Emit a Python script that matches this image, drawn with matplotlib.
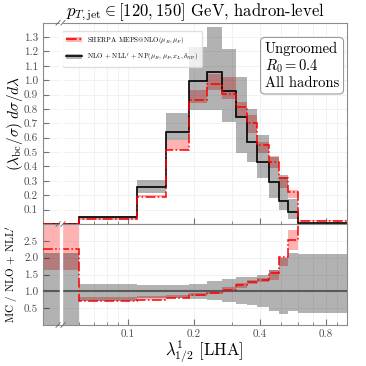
import numpy as np
import matplotlib
matplotlib.use('Agg')
import matplotlib.pyplot as plt
from matplotlib.ticker import FixedLocator, FixedFormatter, NullFormatter
from matplotlib.patches import Patch
from matplotlib.lines import Line2D

plt.rcParams['font.family'] = 'serif'
plt.rcParams['font.serif'] = ['cmr10']
plt.rcParams['mathtext.fontset'] = 'cm'
plt.rcParams['axes.formatter.use_mathtext'] = True

# bin edges in lambda (first bin is the squeezed underflow region)
edges = [0.041, 0.06, 0.11, 0.15, 0.19, 0.23, 0.27, 0.31, 0.35, 0.39, 0.44, 0.49, 0.54, 0.60, 1.0]
x_break = 0.0493

# NLO + NLL' + NP prediction with band
nll = [0.0013, 0.046, 0.255, 0.637, 0.993, 1.055, 0.925, 0.745, 0.567, 0.430, 0.294, 0.160, 0.085, 0.004]
nll_lo = [0.0, 0.036, 0.213, 0.583, 0.790, 0.792, 0.710, 0.491, 0.430, 0.317, 0.178, 0.097, 0.032, 0.0]
nll_hi = [0.003, 0.058, 0.305, 0.769, 1.231, 1.368, 1.220, 1.019, 0.797, 0.618, 0.467, 0.340, 0.174, 0.009]

# SHERPA MEPS@NLO with scale band
mc = [0.003, 0.033, 0.190, 0.514, 0.861, 0.975, 0.905, 0.812, 0.700, 0.549, 0.430, 0.320, 0.220, 0.022]
mc_lo = [0.002, 0.030, 0.185, 0.514, 0.838, 0.930, 0.870, 0.745, 0.630, 0.491, 0.387, 0.250, 0.178, 0.018]
mc_hi = [0.005, 0.038, 0.200, 0.583, 0.935, 1.046, 1.020, 0.849, 0.757, 0.572, 0.472, 0.330, 0.236, 0.026]

# ratio panel
r_mc = [2.25, 0.70, 0.75, 0.81, 0.90, 0.96, 1.04, 1.18, 1.28, 1.33, 1.53, 2.03, 2.53, 6.0]
r_mc_lo = [1.63, 0.70, 0.75, 0.81, 0.86, 0.91, 0.98, 1.10, 1.22, 1.27, 1.34, 1.75, 2.23, 5.0]
r_mc_hi = [3.60, 0.83, 0.87, 0.90, 0.96, 1.03, 1.12, 1.25, 1.34, 1.40, 1.63, 2.03, 2.83, 7.0]
r_lo = [-0.5, 0.72, 0.80, 0.80, 0.78, 0.73, 0.68, 0.63, 0.58, 0.53, 0.41, 0.33, 0.42, 0.37]
r_hi = [2.15, 1.23, 1.18, 1.20, 1.23, 1.31, 1.38, 1.43, 1.43, 1.48, 1.63, 1.98, 2.13, 2.10]

xticks = [0.1, 0.2, 0.4, 0.8]
xminor = [0.05, 0.06, 0.07, 0.08, 0.09, 0.3, 0.5, 0.6, 0.7, 0.9]
top_yticks = [0.1, 0.2, 0.3, 0.4, 0.5, 0.6, 0.7, 0.8, 0.9, 1.0, 1.1, 1.2, 1.3]
rat_yticks = [0.5, 1.0, 1.5, 2.0, 2.5]

fig = plt.figure(figsize=(3.66, 3.66), dpi=100)
ax = fig.add_axes([0.1175, 0.388, 0.8306, 0.550])
rax = fig.add_axes([0.1175, 0.112, 0.8306, 0.276])

for a in (ax, rax):
    a.set_xscale('log')
    a.set_xlim(edges[0], edges[-1])
    a.xaxis.set_major_locator(FixedLocator(xticks))
    a.xaxis.set_minor_locator(FixedLocator(xminor))
    a.xaxis.set_minor_formatter(NullFormatter())
    a.grid(True, which='major', color='0.94', lw=0.6)
    a.grid(True, which='minor', axis='x', color='0.94', lw=0.6)
    a.set_axisbelow(True)
    for s in a.spines.values():
        s.set_color('0.55')
    a.tick_params(which='both', direction='in', color='0.45', labelcolor='0.3', labelsize=8)
    a.tick_params(which='major', length=4)
    a.tick_params(which='minor', length=2)

# top panel
ax.stairs(mc_hi, edges, baseline=mc_lo, fill=True, color='red', alpha=0.3, lw=0)
ax.stairs(nll_hi, edges, baseline=nll_lo, fill=True, color='black', alpha=0.3, lw=0)
ax.stairs(nll, edges, color='black', lw=1.2, zorder=4)
ax.stairs(mc, edges, color='red', lw=1.1, ls='-.', zorder=4)
ax.set_ylim(0, 1.4)
ax.yaxis.set_major_locator(FixedLocator(top_yticks))
ax.yaxis.set_major_formatter(FixedFormatter(['%.1f' % t for t in top_yticks]))
ax.tick_params(labelbottom=False)
ax.set_ylabel(r'$(\lambda_{\mathrm{bc}}/\sigma)\;d\sigma/d\lambda$', fontsize=11)
ax.yaxis.set_label_coords(-0.06, 0.5)
ax.set_title(r'$p_{T,\mathrm{jet}} \in [120, 150]$ GeV, hadron-level', fontsize=12, pad=3)

h_mc = (Patch(color='red', alpha=0.3, lw=0), Line2D([], [], color='red', ls='-.', lw=1.2))
h_nll = (Patch(color='black', alpha=0.3, lw=0), Line2D([], [], color='black', lw=1.2))
ax.legend([h_mc, h_nll],
          [r'SHERPA MEPS@NLO$(\mu_R, \mu_F)$',
           r"NLO + NLL$'$ + NP$(\mu_R, \mu_F, x_L, \delta_{\rm NP})$"],
          loc='upper left', bbox_to_anchor=(0.052, 0.975), fontsize=5,
          handlelength=2.3, frameon=True, fancybox=True, edgecolor='0.85',
          borderpad=0.5, labelspacing=0.8)

ax.text(0.73, 0.905, 'Ungroomed\n$R_0 = 0.4$\nAll hadrons', transform=ax.transAxes,
        ha='left', va='top', fontsize=10.5, linespacing=1.1,
        bbox=dict(boxstyle='round,pad=0.3', fc='white', ec='0.6', lw=0.8))

# ratio panel
rax.stairs(r_mc_hi, edges, baseline=r_mc_lo, fill=True, color='red', alpha=0.3, lw=0)
rax.stairs(r_hi, edges, baseline=r_lo, fill=True, color='black', alpha=0.3, lw=0)
rax.axhline(1.0, color='0.35', lw=1.5, zorder=3)
rax.stairs(r_mc, edges, baseline=None, color='red', lw=1.1, ls='-.', zorder=4)
rax.set_ylim(0, 3)
rax.yaxis.set_major_locator(FixedLocator(rat_yticks))
rax.yaxis.set_major_formatter(FixedFormatter(['%.1f' % t for t in rat_yticks]))
rax.xaxis.set_major_formatter(FixedFormatter(['%g' % t for t in xticks]))
rax.set_ylabel(r"MC / NLO + NLL$'$", fontsize=8)
rax.yaxis.set_label_coords(-0.072, 0.5)
rax.set_xlabel(r'$\lambda^{1}_{1/2}$ [LHA]', fontsize=12)
rax.xaxis.set_label_coords(0.53, -0.14)

# axis break
for a in (ax, rax):
    a.axvline(x_break, color='white', lw=2.4, zorder=6)

xb = (np.log(x_break) - np.log(edges[0])) / (np.log(edges[-1]) - np.log(edges[0]))


def brk(a, y, sy):
    for dx in (-0.008, 0.008):
        a.plot([xb + dx - 0.007, xb + dx + 0.007], [y - sy, y + sy], transform=a.transAxes,
               color='0.4', lw=0.6, clip_on=False, zorder=10)


brk(ax, 1.0, 0.012)
brk(rax, 1.0, 0.024)
brk(rax, 0.0, 0.024)

fig.savefig('out.png', dpi=100)
